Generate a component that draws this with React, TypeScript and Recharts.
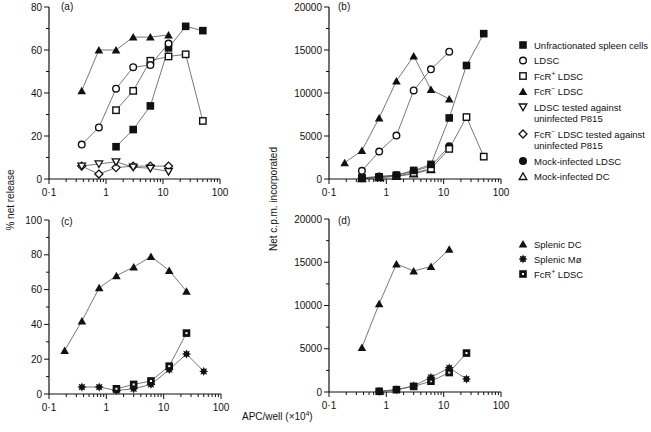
import React from "react";
import { LineChart, Line, XAxis, YAxis } from "recharts";

const FONT = '"Liberation Sans", Arial, Helvetica, sans-serif';

// APC per well (x10^4), doubling dilutions
const apcPerWell = [0.1875, 0.375, 0.75, 1.5, 3, 6, 12.5, 25, 50];
const xTicks = [
  0.1, 0.2, 0.3, 0.4, 0.5, 0.6, 0.7, 0.8, 0.9,
  1, 2, 3, 4, 5, 6, 7, 8, 9,
  10, 20, 30, 40, 50, 60, 70, 80, 90, 100,
];
const xTickLabels: Record<string, string> = { "0.1": "0·1", "1": "1", "10": "10", "100": "100" };

// (a) % net release
const aUnfractionated = [null, null, null, 15, 23, 34, 61, 71, 69];
const aLDSC = [null, 16, 24, 42, 52, 53, 63, null, null];
const aFcRPos = [null, null, null, 32, 41, 55, 57, 58, 27];
const aFcRNeg = [null, 41, 60, 60, 66, 66, 67, null, null];
const aLDSCUninfected = [null, 6, 7, 8, 5.5, 5, 3.5, null, null];
const aFcRNegUninfected = [null, 6, 2.3, 5.3, 6, 6, 6, null, null];

// (b) net c.p.m. incorporated
const bUnfractionated = [null, 150, 250, 450, 1000, 1700, 7100, 13200, 16900];
const bLDSC = [null, 950, 3200, 5050, 10300, 12750, 14800, null, null];
const bFcRPos = [null, 100, 200, 350, 700, 1200, 3500, 7200, 2600];
const bFcRNeg = [1900, 3300, 7100, 11400, 14300, 10400, 9300, null, null];
const bMockLDSC = [null, 100, 300, 450, 900, 1500, 3800, null, null];
const bMockDC = [null, 50, 150, 300, 600, 1100, null, null, null];

// (c) % net release
const cSplenicDC = [25, 42, 61, 68, 73, 79, 71, 59, null];
const cSplenicMo = [null, 4, 4, 2, 3, 5.5, 14, 23, 13];
const cFcRPos = [null, null, null, 3, 5.5, 7.5, 16, 35, null];

// (d) net c.p.m. incorporated
const dSplenicDC = [null, 5150, 10200, 14800, 14000, 14500, 16500, null, null];
const dSplenicMo = [null, null, 80, 270, 700, 1700, 2800, 1500, null];
const dFcRPos = [null, null, 80, 270, 650, 1250, 2250, 4500, null];

const topLegend = [
  { kind: "sqFill", lines: ["Unfractionated spleen cells"] },
  { kind: "circOpen", lines: ["LDSC"] },
  { kind: "sqOpen", lines: ["FcR^+ LDSC"] },
  { kind: "triFill", lines: ["FcR^- LDSC"] },
  { kind: "triDownOpen", lines: ["LDSC tested against", "uninfected P815"] },
  { kind: "diamondOpen", lines: ["FcR^- LDSC tested against", "uninfected P815"] },
  { kind: "circFill", lines: ["Mock-infected LDSC"] },
  { kind: "triOpen", lines: ["Mock-infected DC"] },
];
const bottomLegend = [
  { kind: "triFill", lines: ["Splenic DC"] },
  { kind: "star", lines: ["Splenic Mø"] },
  { kind: "sqDot", lines: ["FcR^+ LDSC"] },
];

type Kind =
  | "sqFill" | "sqOpen" | "triFill" | "triOpen" | "triDownOpen"
  | "diamondOpen" | "circOpen" | "circFill" | "star" | "sqDot";

function Mark({ kind, cx, cy }: { kind: Kind; cx: number; cy: number }) {
  if (cx == null || cy == null || isNaN(cx) || isNaN(cy)) return null;
  const k = "#111";
  switch (kind) {
    case "sqFill":
      return <rect x={cx - 3.8} y={cy - 3.8} width={7.6} height={7.6} fill={k} />;
    case "sqOpen":
      return <rect x={cx - 3.2} y={cy - 3.2} width={6.4} height={6.4} fill="#fff" stroke={k} strokeWidth={1.4} />;
    case "sqDot":
      return (
        <g>
          <rect x={cx - 3.8} y={cy - 3.8} width={7.6} height={7.6} fill={k} />
          <rect x={cx - 1} y={cy - 1} width={2} height={2} fill="#fff" />
        </g>
      );
    case "triFill":
      return <polygon points={`${cx - 4.3},${cy + 3.5} ${cx + 4.3},${cy + 3.5} ${cx},${cy - 4}`} fill={k} />;
    case "triOpen":
      return <polygon points={`${cx - 3.8},${cy + 3} ${cx + 3.8},${cy + 3} ${cx},${cy - 3.6}`} fill="#fff" stroke={k} strokeWidth={1.3} />;
    case "triDownOpen":
      return <polygon points={`${cx - 3.8},${cy - 3} ${cx + 3.8},${cy - 3} ${cx},${cy + 3.6}`} fill="#fff" stroke={k} strokeWidth={1.3} />;
    case "diamondOpen":
      return <polygon points={`${cx},${cy - 4} ${cx + 4},${cy} ${cx},${cy + 4} ${cx - 4},${cy}`} fill="#fff" stroke={k} strokeWidth={1.3} />;
    case "circOpen":
      return <circle cx={cx} cy={cy} r={3.3} fill="#fff" stroke={k} strokeWidth={1.4} />;
    case "circFill":
      return <circle cx={cx} cy={cy} r={4} fill={k} />;
    case "star": {
      const pts: string[] = [];
      for (let i = 0; i < 16; i++) {
        const r = i % 2 === 0 ? 4.6 : 2.6;
        const a = (Math.PI * i) / 8;
        pts.push(`${cx + r * Math.sin(a)},${cy - r * Math.cos(a)}`);
      }
      return <polygon points={pts.join(" ")} fill={k} />;
    }
  }
  return null;
}

function toPoints(values: (number | null)[]) {
  return apcPerWell
    .map((x, i) => ({ x, y: values[i] }))
    .filter((p) => p.y != null);
}

function isDecade(v: number) {
  return v === 0.1 || v === 1 || v === 10 || v === 100;
}

const XTick = (props: any) => {
  const { x, y, payload } = props;
  const v = payload.value;
  const major = isDecade(v);
  return (
    <g>
      <line x1={x} x2={x} y1={y} y2={y + (major ? 5 : 3)} stroke="#111" strokeWidth={1} />
      {major && (
        <text x={x} y={y + 17} textAnchor="middle" fontFamily={FONT} fontSize={10} fill="#111">
          {xTickLabels[String(v)]}
        </text>
      )}
    </g>
  );
};

type Series = { name: string; kind: Kind; values: (number | null)[] };
type Box = { x0: number; x1: number; y0: number; y1: number };

function Panel({ box, yMax, yMajor, yMinor, series }: { box: Box; yMax: number; yMajor: number; yMinor: number; series: Series[] }) {
  const mL = 49, mT = 8, mR = 16, mB = 26;
  const w = box.x1 - box.x0 + mL + mR;
  const h = box.y1 - box.y0 + mT + mB;
  const yTicks: number[] = [];
  for (let v = 0; v <= yMax; v += yMinor) yTicks.push(v);

  const YTick = (props: any) => {
    const { x, y, payload } = props;
    const major = payload.value % yMajor === 0;
    return (
      <g>
        <line x1={x - (major ? 5 : 3)} x2={x} y1={y} y2={y} stroke="#111" strokeWidth={1} />
        {major && (
          <text x={x - 7} y={y + 3.5} textAnchor="end" fontFamily={FONT} fontSize={10} fill="#111">
            {payload.value}
          </text>
        )}
      </g>
    );
  };

  return (
    <div style={{ position: "absolute", left: box.x0 - mL, top: box.y0 - mT }}>
      <LineChart width={w} height={h} margin={{ top: mT, left: mL - 1, right: mR, bottom: mB - 1 }}>
        <XAxis
          type="number"
          dataKey="x"
          scale="log"
          domain={[0.1, 100]}
          allowDataOverflow
          ticks={xTicks}
          interval={0}
          height={1}
          tickSize={0}
          tickMargin={0}
          tickLine={false}
          axisLine={{ stroke: "#111", strokeWidth: 1.2 }}
          tick={<XTick />}
        />
        <YAxis
          type="number"
          domain={[0, yMax]}
          ticks={yTicks}
          interval={0}
          width={1}
          tickSize={0}
          tickMargin={0}
          tickLine={false}
          axisLine={{ stroke: "#111", strokeWidth: 1.2 }}
          tick={<YTick />}
        />
        {series.map((s) => (
          <Line
            key={s.name}
            data={toPoints(s.values)}
            dataKey="y"
            stroke="#555"
            strokeWidth={0.8}
            isAnimationActive={false}
            activeDot={false}
            dot={(p: any) => <Mark key={`${s.name}-${p.index}`} kind={s.kind} cx={p.cx} cy={p.cy} />}
          />
        ))}
      </LineChart>
    </div>
  );
}

function RichLine({ text, x, y }: { text: string; x: number; y: number }) {
  const parts = text.split(/\^(.)/);
  return (
    <text x={x} y={y}>
      {parts.map((p, i) =>
        i % 2 === 1 ? (
          <tspan key={i} dy={-4} fontSize={6.5}>
            {p === "-" ? "−" : p}
          </tspan>
        ) : (
          <tspan key={i} dy={i > 0 ? 4 : 0}>
            {p}
          </tspan>
        )
      )}
    </text>
  );
}

function Legend({ items, startY, step }: { items: { kind: string; lines: string[] }[]; startY: number; step: number }) {
  let y = startY;
  const out: React.ReactNode[] = [];
  items.forEach((it, i) => {
    out.push(<Mark key={`m${i}`} kind={it.kind as Kind} cx={523} cy={y} />);
    it.lines.forEach((ln, j) => {
      out.push(<RichLine key={`t${i}-${j}`} text={ln} x={534} y={y + 3.5 + j * 11.5} />);
    });
    y += step + (it.lines.length - 1) * 11.5;
  });
  return <g fontSize={9.5}>{out}</g>;
}

export default function App() {
  return (
    <div style={{ position: "absolute", left: 0, top: 0, width: 651, height: 432, background: "#fff" }}>
      <Panel
        box={{ x0: 49, x1: 220, y0: 7, y1: 179 }}
        yMax={80}
        yMajor={20}
        yMinor={10}
        series={[
          { name: "aFcRNegUninfected", kind: "diamondOpen", values: aFcRNegUninfected },
          { name: "aLDSCUninfected", kind: "triDownOpen", values: aLDSCUninfected },
          { name: "aUnfractionated", kind: "sqFill", values: aUnfractionated },
          { name: "aFcRPos", kind: "sqOpen", values: aFcRPos },
          { name: "aLDSC", kind: "circOpen", values: aLDSC },
          { name: "aFcRNeg", kind: "triFill", values: aFcRNeg },
        ]}
      />
      <Panel
        box={{ x0: 329, x1: 501, y0: 7, y1: 179 }}
        yMax={20000}
        yMajor={5000}
        yMinor={2500}
        series={[
          { name: "bMockDC", kind: "triOpen", values: bMockDC },
          { name: "bMockLDSC", kind: "circFill", values: bMockLDSC },
          { name: "bFcRPos", kind: "sqOpen", values: bFcRPos },
          { name: "bUnfractionated", kind: "sqFill", values: bUnfractionated },
          { name: "bLDSC", kind: "circOpen", values: bLDSC },
          { name: "bFcRNeg", kind: "triFill", values: bFcRNeg },
        ]}
      />
      <Panel
        box={{ x0: 49, x1: 221, y0: 220, y1: 394 }}
        yMax={100}
        yMajor={20}
        yMinor={10}
        series={[
          { name: "cSplenicMo", kind: "star", values: cSplenicMo },
          { name: "cFcRPos", kind: "sqDot", values: cFcRPos },
          { name: "cSplenicDC", kind: "triFill", values: cSplenicDC },
        ]}
      />
      <Panel
        box={{ x0: 329, x1: 501, y0: 219, y1: 392 }}
        yMax={20000}
        yMajor={5000}
        yMinor={2500}
        series={[
          { name: "dFcRPos", kind: "sqDot", values: dFcRPos },
          { name: "dSplenicMo", kind: "star", values: dSplenicMo },
          { name: "dSplenicDC", kind: "triFill", values: dSplenicDC },
        ]}
      />
      <svg
        width={651}
        height={432}
        style={{ position: "absolute", left: 0, top: 0, pointerEvents: "none" }}
        fontFamily={FONT}
        fontSize={10}
        fill="#111"
      >
        <text x={61} y={10}>(a)</text>
        <text x={338} y={10}>(b)</text>
        <text x={61} y={225}>(c)</text>
        <text x={338} y={224}>(d)</text>
        <text transform="translate(14,200) rotate(-90)" textAnchor="middle">% net release</text>
        <text transform="translate(277,199) rotate(-90)" textAnchor="middle">Net c.p.m. incorporated</text>
        <text x={242} y={420}>
          APC/well (×10<tspan dy={-4} fontSize={6.5}>4</tspan>
          <tspan dy={4}>)</tspan>
        </text>
        <Legend items={topLegend} startY={45} step={15.5} />
        <Legend items={bottomLegend} startY={244} step={15} />
      </svg>
    </div>
  );
}
